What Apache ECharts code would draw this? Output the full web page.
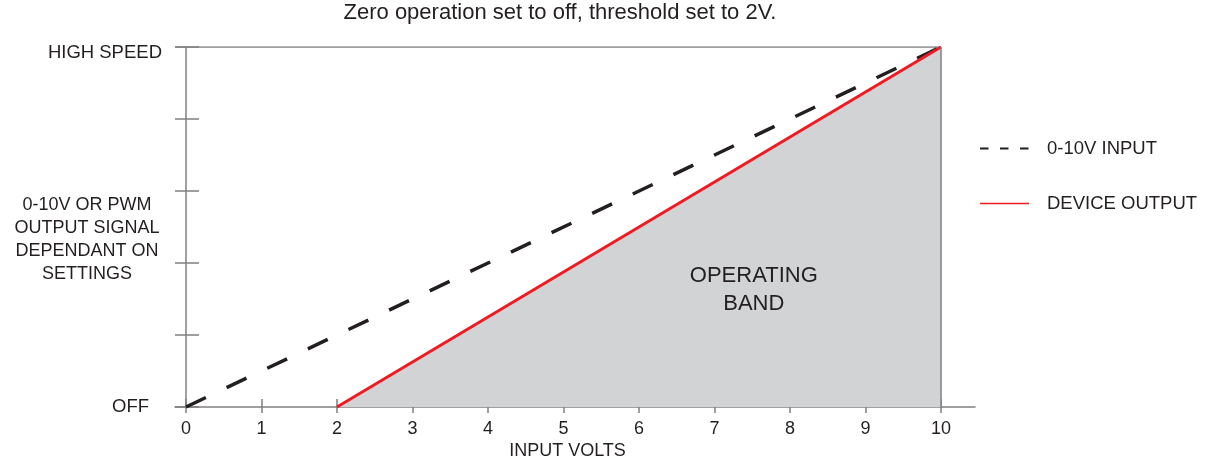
<!DOCTYPE html>
<html>
<head>
<meta charset="utf-8">
<script src="https://cdn.jsdelivr.net/npm/echarts@6/dist/echarts.min.js"></script>
<style>
html,body{margin:0;padding:0;background:#fff;}
#c{width:1211px;height:466px;}
</style>
</head>
<body>
<div id="c"></div>
<script>
// ---- data ----
const titleText = 'Zero operation set to off, threshold set to 2V.';
const xTicks = [0, 1, 2, 3, 4, 5, 6, 7, 8, 9, 10];
const yTickLabels = { 0: 'OFF', 10: 'HIGH SPEED' };
const yAxisCaption = '0-10V OR PWM\nOUTPUT SIGNAL\nDEPENDANT ON\nSETTINGS';
const xAxisCaption = 'INPUT VOLTS';
const inputName = '0-10V INPUT';
const outputName = 'DEVICE OUTPUT';
const inputLine = [[0, 0], [10, 10]];
const outputLine = [[2, 0], [10, 10]];
const bandEdge = [[10, 0], [10, 10]];
const bandLabel = 'OPERATING\nBAND';
const bandLabelAt = [[7.52, 3.26]];

// ---- axis ranges ----
const X_MIN = -0.1457, X_MAX = 10.45;
const Y_MIN = 0, Y_MAX = 10;
const topEdge = [[X_MIN, Y_MAX], [10, Y_MAX]];

const AX = '#808080';
const TXT = '#231f20';
const RED = '#ed1c24';
const FONT = '"Liberation Sans", Arial, Helvetica, sans-serif';

const chart = echarts.init(document.getElementById('c'), null, { renderer: 'canvas' });
chart.setOption({
  animation: false,
  backgroundColor: '#fff',
  textStyle: { fontFamily: FONT },
  title: {
    text: titleText, left: 560, top: 2, textAlign: 'center', padding: 0,
    textStyle: { fontFamily: FONT, fontSize: 22, fontWeight: 'normal', color: TXT }
  },
  graphic: [
    {
      type: 'text', x: 87, y: 239.5, silent: true,
      style: {
        text: yAxisCaption, fill: TXT, font: '18px ' + FONT,
        align: 'center', verticalAlign: 'middle', lineHeight: 23
      }
    }
  ],
  legend: {
    orient: 'vertical', left: 979, top: 139, padding: 0, itemWidth: 49, itemHeight: 14, itemGap: 36,
    selectedMode: false,
    itemStyle: { opacity: 0 },
    textStyle: { fontFamily: FONT, fontSize: 18.5, color: TXT, padding: [0, 0, 0, 13] },
    data: [
      { name: inputName, itemStyle: { opacity: 0 }, lineStyle: { type: [8.5, 11.5], width: 2, color: TXT } },
      { name: outputName, itemStyle: { opacity: 0 }, lineStyle: { type: 'solid', width: 1.5, color: RED } }
    ]
  },
  grid: { left: 175, right: 236, top: 47, bottom: 59, containLabel: false, outerBoundsMode: 'none' },
  xAxis: [
    {
      type: 'value', min: X_MIN, max: X_MAX, position: 'bottom',
      axisLine: { show: true, onZero: true, onZeroAxisIndex: 0, lineStyle: { color: AX, width: 1.5 } },
      axisTick: { show: false },
      splitLine: { show: false },
      axisLabel: { customValues: xTicks, fontFamily: FONT, fontSize: 18, color: TXT, margin: 13 },
      name: xAxisCaption, nameLocation: 'middle', nameGap: 35, nameMoveOverlap: false,
      nameTextStyle: { fontFamily: FONT, fontSize: 18, color: TXT, padding: [0, 15, 0, 0] }
    },
    {
      type: 'value', min: X_MIN, max: X_MAX, position: 'bottom', offset: -8,
      axisLine: { show: false, onZero: false },
      axisTick: { show: true, customValues: xTicks, length: 14, lineStyle: { color: AX, width: 1.5 } },
      axisLabel: { show: false },
      splitLine: { show: false }
    }
  ],
  yAxis: [
    {
      type: 'value', min: Y_MIN, max: Y_MAX, interval: 2, position: 'left',
      axisLine: { show: true, onZero: true, onZeroAxisIndex: 0, lineStyle: { color: AX, width: 1.5 } },
      axisTick: { show: false },
      splitLine: { show: false },
      axisLabel: {
        margin: 13,
        formatter: function (v) {
          if (v === 10) return '{a|' + yTickLabels[10] + '}';
          if (v === 0) return '{b|' + yTickLabels[0] + '}';
          return '';
        },
        rich: {
          a: { fontFamily: FONT, fontSize: 18.5, color: TXT, padding: [12, 0, 0, 0] },
          b: { fontFamily: FONT, fontSize: 18.5, color: TXT, padding: [0, 13, 0, 0] }
        }
      }
    },
    {
      type: 'value', min: Y_MIN, max: Y_MAX, interval: 2, position: 'left', offset: -24,
      axisLine: { show: false, onZero: false },
      axisTick: { show: true, length: 24, lineStyle: { color: AX, width: 1.5 } },
      axisLabel: { show: false },
      splitLine: { show: false }
    }
  ],
  series: [
    {
      name: inputName, type: 'line', data: inputLine, symbol: 'none', silent: true,
      itemStyle: { color: TXT },
      lineStyle: { color: TXT, width: 3.5, type: [22, 23], cap: 'butt' }, z: 3
    },
    {
      name: outputName, type: 'line', data: outputLine, symbol: 'none', silent: true,
      itemStyle: { color: RED },
      lineStyle: { color: RED, width: 3 },
      areaStyle: { color: '#d1d3d4', opacity: 1 }, z: 4
    },
    {
      name: 'edge', type: 'line', data: bandEdge, symbol: 'none', silent: true,
      lineStyle: { color: AX, width: 1.5 }, z: 5
    },
    {
      name: 'top', type: 'line', data: topEdge, symbol: 'none', silent: true,
      lineStyle: { color: AX, width: 1.5 }, z: 2
    },
    {
      name: 'band', type: 'scatter', data: bandLabelAt, symbolSize: 0, silent: true,
      itemStyle: { opacity: 1, color: TXT },
      label: {
        show: true, position: 'inside', formatter: bandLabel, opacity: 1,
        fontFamily: FONT, fontSize: 22, lineHeight: 28, color: TXT, align: 'center'
      }, z: 6
    }
  ]
});
</script>
</body>
</html>
